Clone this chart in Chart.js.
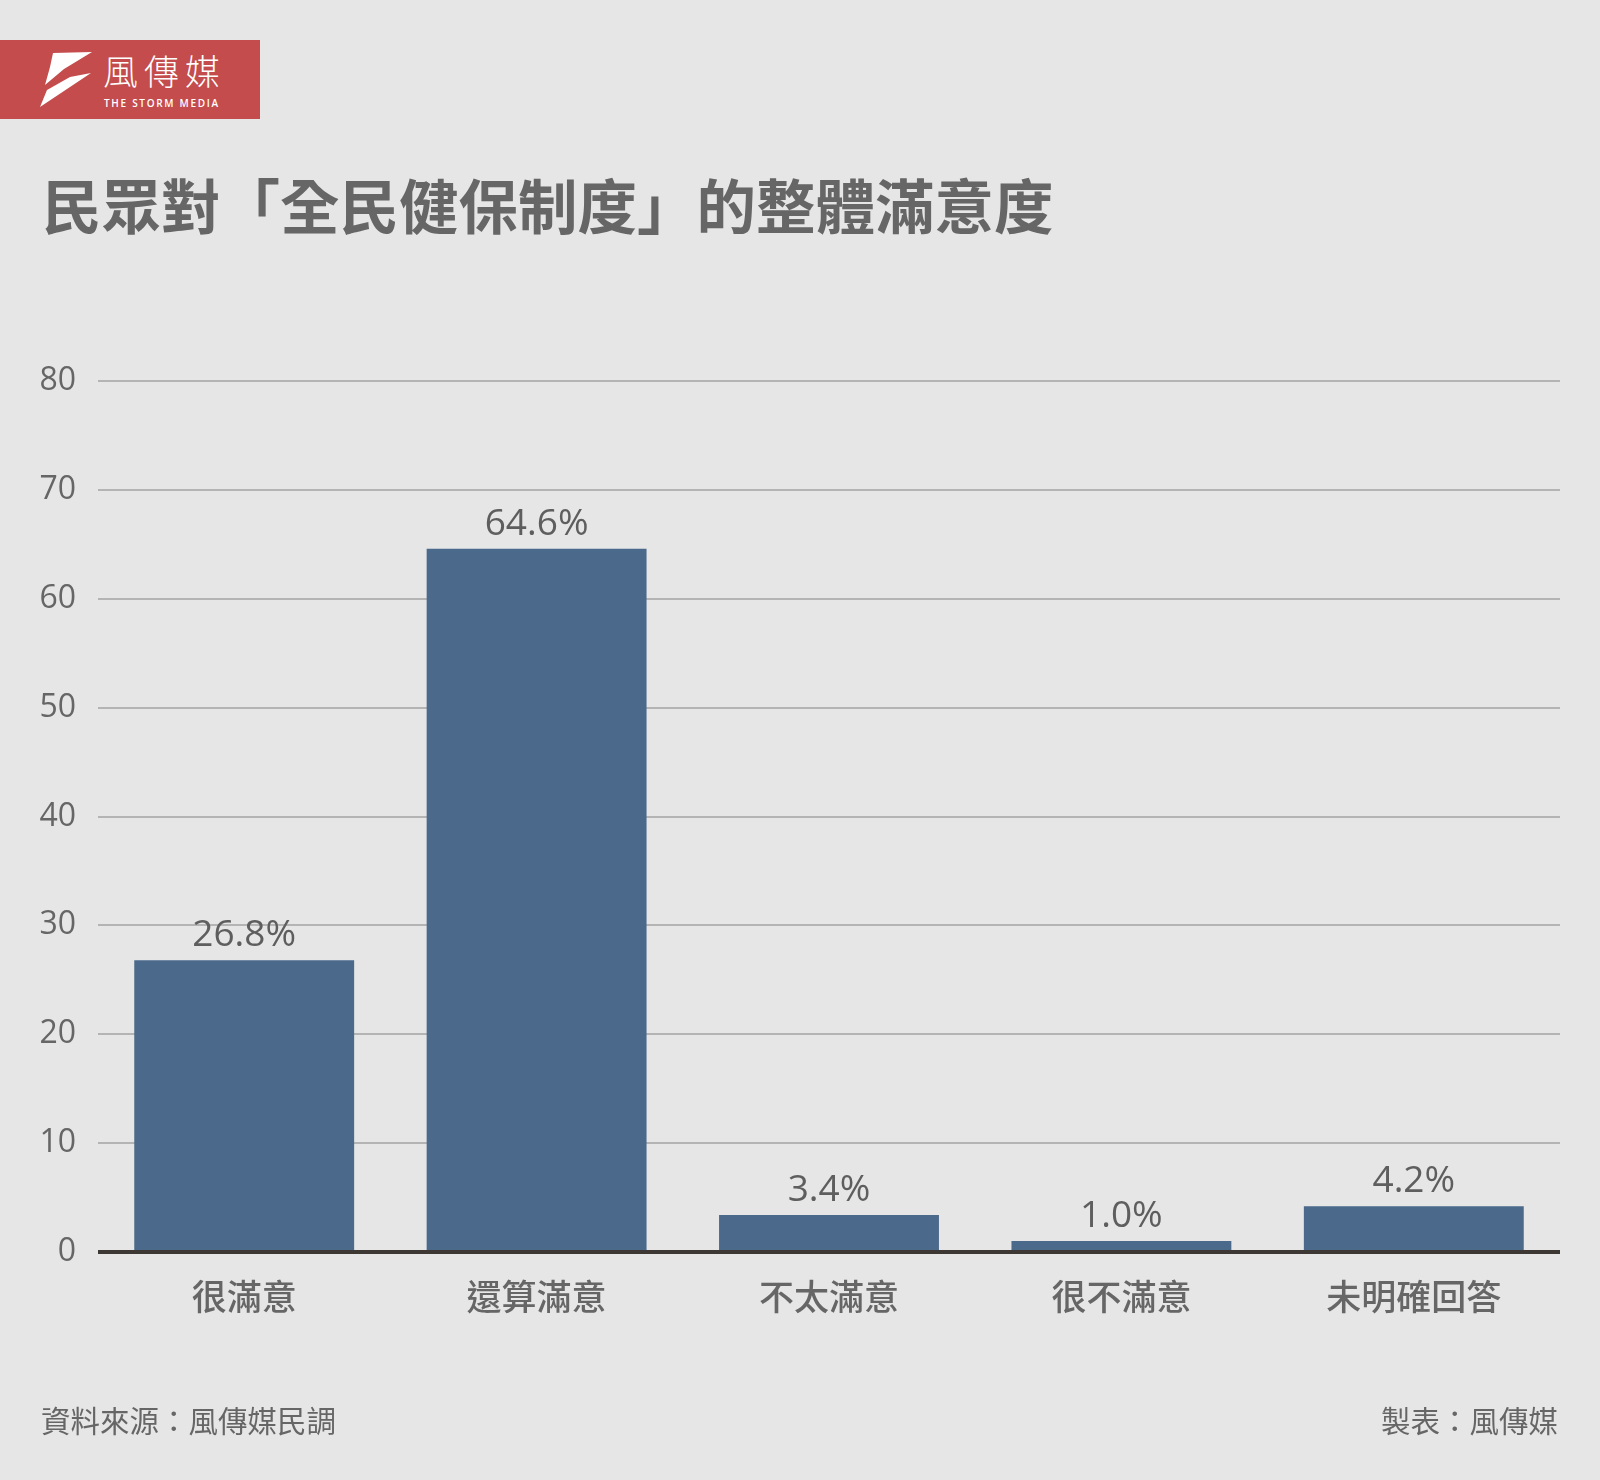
<!DOCTYPE html>
<html>
<head>
<meta charset="utf-8">
<script src="https://cdn.jsdelivr.net/npm/chart.js@4"></script>
<style>
  html, body { margin: 0; padding: 0; background: #e6e6e6; }
  body { width: 1600px; height: 1480px; position: relative; overflow: hidden;
         font-family: "Noto Sans CJK TC", sans-serif; color: #666; }
  #chart { position: absolute; left: 0; top: 0; }
  .logo { position: absolute; left: 0; top: 40px; width: 260px; height: 79px; background: #c44c4c; }
  .logo svg { position: absolute; left: 0; top: 0; }
  .logo .zh { position: absolute; left: 103px; top: 10px; font-size: 35px; font-weight: 300;
              color: #fff; letter-spacing: 6px; line-height: 40px; }
  .logo .en { position: absolute; left: 104px; top: 56px; font-family: "Open Sans", sans-serif;
              font-size: 10px; font-weight: 600; color: #fff; letter-spacing: 1.7px; }
  .title { position: absolute; left: 42px; top: 167px; font-size: 59.5px; font-weight: 700;
           line-height: 72px; color: #666; white-space: nowrap; }
  .foot { position: absolute; top: 1399px; font-size: 29.5px; line-height: 40px; color: #666; }
</style>
</head>
<body>
<div class="logo">
  <svg width="100" height="79" viewBox="0 0 100 79">
    <path d="M53,13 L92,12 L64,29 L45,45 L50,27 Z" fill="#fff"/>
    <path d="M91,33 L40,67 L47,50 L70,37 Z" fill="#fff"/>
  </svg>
  <div class="zh">風傳媒</div>
  <div class="en">THE STORM MEDIA</div>
</div>
<div class="title">民眾對「全民健保制度」的整體滿意度</div>
<canvas id="chart" width="1600" height="1480"></canvas>
<div class="foot" style="left:41px">資料來源：風傳媒民調</div>
<div class="foot" style="right:42px">製表：風傳媒</div>
<script>
const categories = ["很滿意", "還算滿意", "不太滿意", "很不滿意", "未明確回答"];
const percentages = [26.8, 64.6, 3.4, 1.0, 4.2];
const yTicks = [0, 10, 20, 30, 40, 50, 60, 70, 80];

const numFont = '"Open Sans", "Noto Sans CJK TC", sans-serif';

// value labels above bars + zero line drawn over the bars
const valueLabels = {
  id: "valueLabels",
  afterDatasetsDraw(chart) {
    const ctx = chart.ctx;
    const area = chart.chartArea;
    const y0 = chart.scales.y.getPixelForValue(0);
    ctx.save();
    ctx.strokeStyle = "#3d3833";
    ctx.lineWidth = 4;
    ctx.beginPath();
    ctx.moveTo(area.left, y0);
    ctx.lineTo(area.right, y0);
    ctx.stroke();

    const meta = chart.getDatasetMeta(0);
    ctx.font = "400 37px " + numFont;
    ctx.fillStyle = "#5e5e5e";
    ctx.textAlign = "center";
    ctx.textBaseline = "alphabetic";
    meta.data.forEach((bar, i) => {
      ctx.fillText(percentages[i].toFixed(1) + "%", bar.x, bar.y - 14);
    });
    ctx.restore();
  },
};

new Chart(document.getElementById("chart"), {
  type: "bar",
  data: {
    labels: categories,
    datasets: [
      {
        data: percentages,
        backgroundColor: "#4a698b",
        borderWidth: 0,
        categoryPercentage: 1,
        barPercentage: 0.752,
      },
    ],
  },
  options: {
    responsive: false,
    animation: false,
    devicePixelRatio: 1,
    layout: { padding: { top: 381, left: 0, right: 40, bottom: 108 } },
    plugins: { legend: { display: false }, tooltip: { enabled: false } },
    scales: {
      x: {
        grid: { display: false, drawTicks: false },
        border: { display: false },
        ticks: {
          padding: 24,
          color: "#666",
          font: { family: "Noto Sans CJK TC", size: 35, weight: 500 },
        },
        afterFit(scale) { scale.height = 120; },
      },
      y: {
        min: 0,
        max: 80,
        afterBuildTicks(scale) { scale.ticks = yTicks.map((v) => ({ value: v })); },
        grid: { color: "#b4b4b4", lineWidth: 2, drawTicks: false },
        border: { display: false },
        ticks: {
          padding: 22,
          color: "#666",
          font: { family: numFont, size: 32, weight: 400 },
        },
        afterFit(scale) { scale.width = 98; },
      },
    },
  },
  plugins: [valueLabels],
});
</script>
</body>
</html>
